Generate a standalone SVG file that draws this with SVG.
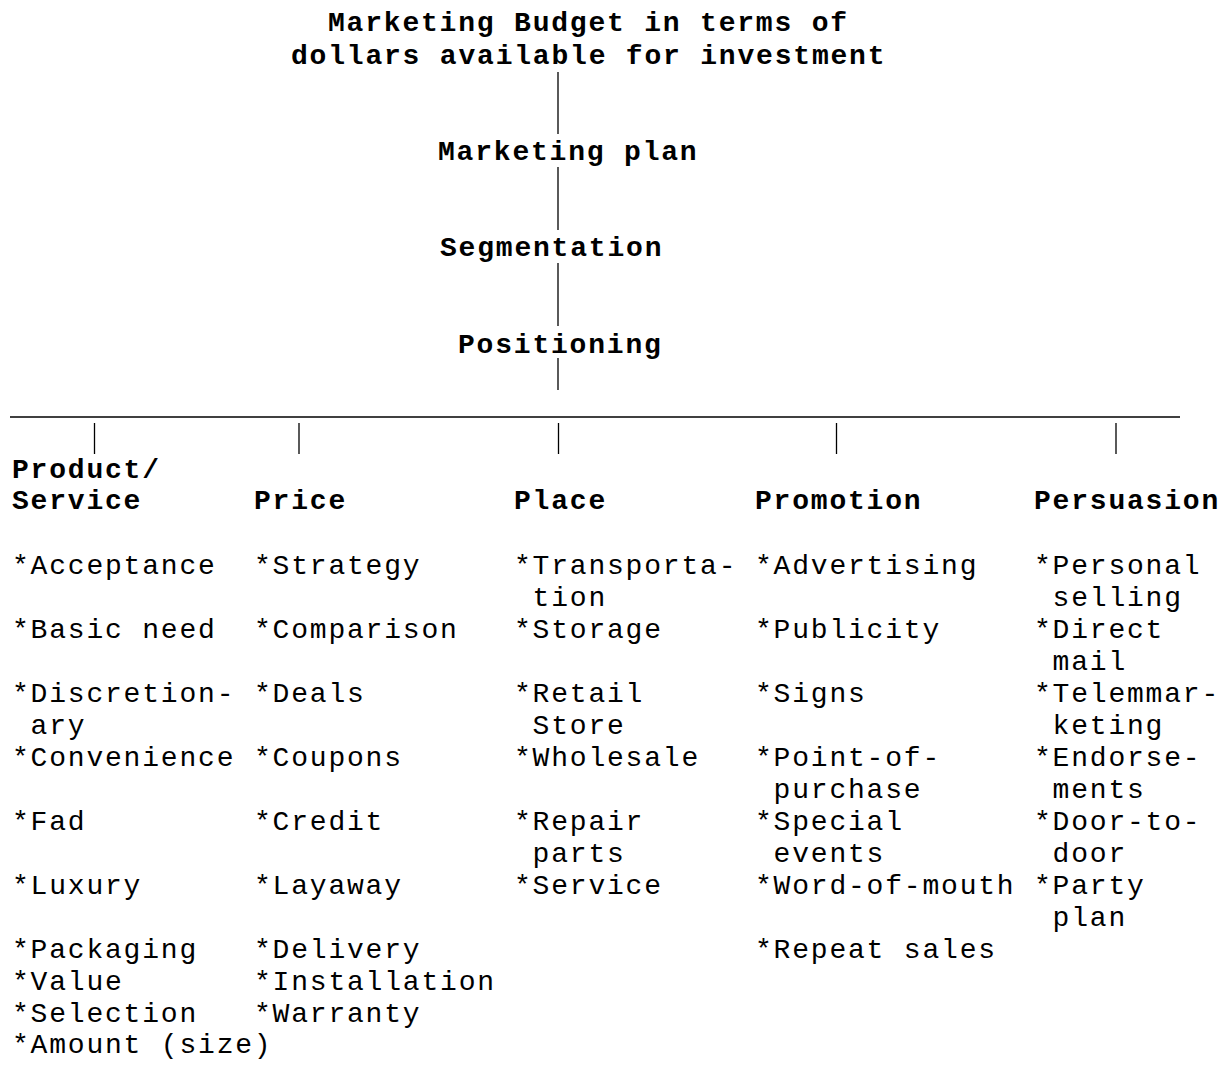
<svg xmlns="http://www.w3.org/2000/svg" width="1224" height="1091" viewBox="0 0 1224 1091">
<style>
text{font-family:"Liberation Mono","Courier New",monospace;font-size:28px;letter-spacing:1.8px;fill:#000}
.b{font-weight:bold}
.ln{stroke:#000;stroke-width:1.3;fill:none}
</style>
<rect width="1224" height="1091" fill="#fff"/>
<g id="connectors">
<line class="ln" x1="558" y1="72" x2="558" y2="134"/>
<line class="ln" x1="558" y1="167" x2="558" y2="230"/>
<line class="ln" x1="558" y1="263" x2="558" y2="326"/>
<line class="ln" x1="558" y1="358" x2="558" y2="390"/>
<line class="ln" x1="10" y1="417" x2="1180" y2="417"/>
<line class="ln" x1="94.5" y1="423" x2="94.5" y2="454"/>
<line class="ln" x1="299" y1="423" x2="299" y2="454"/>
<line class="ln" x1="558.5" y1="423" x2="558.5" y2="454"/>
<line class="ln" x1="836.5" y1="423" x2="836.5" y2="454"/>
<line class="ln" x1="1116" y1="423" x2="1116" y2="454"/>
</g>
<g id="budget">
<text class="b"><tspan x="328" y="31">Marketing Budget in terms of</tspan><tspan x="291" y="64">dollars available for investment</tspan></text>
</g>
<g id="marketing-plan"><text class="b" x="438" y="160">Marketing plan</text></g>
<g id="segmentation"><text class="b" x="440" y="256">Segmentation</text></g>
<g id="positioning"><text class="b" x="458" y="353">Positioning</text></g>
<g id="product">
<text class="b"><tspan x="12" y="478">Product/</tspan><tspan x="12" y="509">Service</tspan></text>
<text>
<tspan x="12" y="574">*Acceptance</tspan>
<tspan x="12" y="638">*Basic need</tspan>
<tspan x="12" y="702">*Discretion-</tspan>
<tspan x="30.6" y="734">ary</tspan>
<tspan x="12" y="766">*Convenience</tspan>
<tspan x="12" y="830">*Fad</tspan>
<tspan x="12" y="894">*Luxury</tspan>
<tspan x="12" y="958">*Packaging</tspan>
<tspan x="12" y="990">*Value</tspan>
<tspan x="12" y="1022">*Selection</tspan>
<tspan x="12" y="1053">*Amount (size)</tspan>
</text>
</g>
<g id="price">
<text class="b" x="254" y="509">Price</text>
<text>
<tspan x="254" y="574">*Strategy</tspan>
<tspan x="254" y="638">*Comparison</tspan>
<tspan x="254" y="702">*Deals</tspan>
<tspan x="254" y="766">*Coupons</tspan>
<tspan x="254" y="830">*Credit</tspan>
<tspan x="254" y="894">*Layaway</tspan>
<tspan x="254" y="958">*Delivery</tspan>
<tspan x="254" y="990">*Installation</tspan>
<tspan x="254" y="1022">*Warranty</tspan>
</text>
</g>
<g id="place">
<text class="b" x="514" y="509">Place</text>
<text>
<tspan x="514" y="574">*Transporta-</tspan>
<tspan x="532.6" y="606">tion</tspan>
<tspan x="514" y="638">*Storage</tspan>
<tspan x="514" y="702">*Retail</tspan>
<tspan x="532.6" y="734">Store</tspan>
<tspan x="514" y="766">*Wholesale</tspan>
<tspan x="514" y="830">*Repair</tspan>
<tspan x="532.6" y="862">parts</tspan>
<tspan x="514" y="894">*Service</tspan>
</text>
</g>
<g id="promotion">
<text class="b" x="755" y="509">Promotion</text>
<text>
<tspan x="755" y="574">*Advertising</tspan>
<tspan x="755" y="638">*Publicity</tspan>
<tspan x="755" y="702">*Signs</tspan>
<tspan x="755" y="766">*Point-of-</tspan>
<tspan x="773.6" y="798">purchase</tspan>
<tspan x="755" y="830">*Special</tspan>
<tspan x="773.6" y="862">events</tspan>
<tspan x="755" y="894">*Word-of-mouth</tspan>
<tspan x="755" y="958">*Repeat sales</tspan>
</text>
</g>
<g id="persuasion">
<text class="b" x="1034" y="509">Persuasion</text>
<text>
<tspan x="1034" y="574">*Personal</tspan>
<tspan x="1052.6" y="606">selling</tspan>
<tspan x="1034" y="638">*Direct</tspan>
<tspan x="1052.6" y="670">mail</tspan>
<tspan x="1034" y="702">*Telemmar-</tspan>
<tspan x="1052.6" y="734">keting</tspan>
<tspan x="1034" y="766">*Endorse-</tspan>
<tspan x="1052.6" y="798">ments</tspan>
<tspan x="1034" y="830">*Door-to-</tspan>
<tspan x="1052.6" y="862">door</tspan>
<tspan x="1034" y="894">*Party</tspan>
<tspan x="1052.6" y="926">plan</tspan>
</text>
</g>
</svg>
